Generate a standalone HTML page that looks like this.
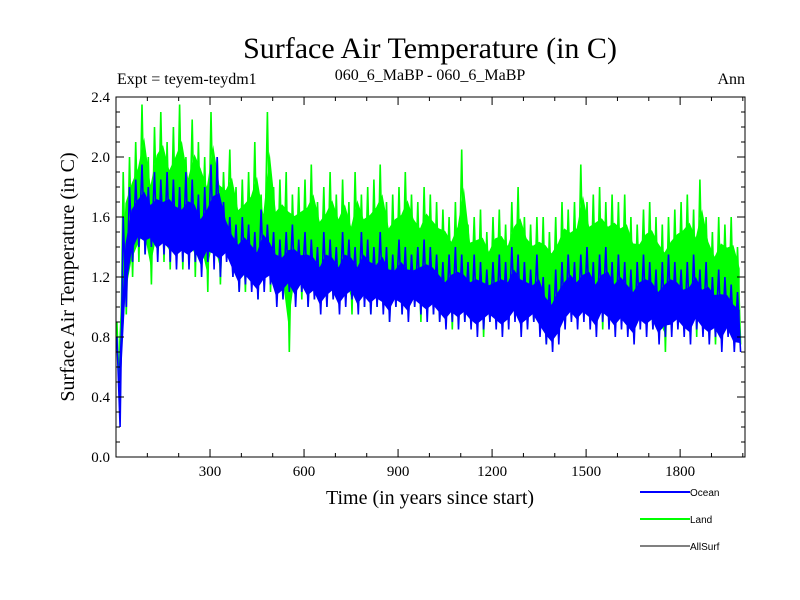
<!DOCTYPE html>
<html><head><meta charset="utf-8">
<style>
body{margin:0;background:#fff;}
svg{display:block;font-family:"Liberation Serif",serif;}
</style></head>
<body>
<svg id="chart" width="800" height="600" viewBox="0 0 800 600">
<rect width="800" height="600" fill="#fff"/>
<text x="430" y="58" font-size="30" text-anchor="middle">Surface Air Temperature (in C)</text>
<text x="117" y="84" font-size="16">Expt = teyem-teydm1</text>
<text x="430" y="80" font-size="16" text-anchor="middle">060_6_MaBP - 060_6_MaBP</text>
<text x="745" y="84" font-size="16" text-anchor="end">Ann</text>
<g id="plot"></g>
<g id="axes"></g>
<text x="430" y="504" font-size="20" text-anchor="middle">Time (in years since start)</text>
<text transform="translate(74,277) rotate(-90)" font-size="20" text-anchor="middle">Surface Air Temperature (in C)</text>
<g font-family="Liberation Sans, sans-serif" font-size="10">
<g><line x1="640" y1="492" x2="690" y2="492" stroke="#0000ff" stroke-width="2"/><text x="690" y="496">Ocean</text></g>
<g><line x1="640" y1="519" x2="690" y2="519" stroke="#00ff00" stroke-width="2"/><text x="690" y="523">Land</text></g>
<g><line x1="640" y1="546" x2="690" y2="546" stroke="#000" stroke-width="1"/><text x="690" y="550">AllSurf</text></g>
</g>
</svg>
<script>
const binYears = [];
for (let i = 0; i < 100; i++) binYears.push(i * 20);
const landHi = [0.9,1.9,2.0,2.1,2.35,2.0,2.2,2.3,2.1,2.2, 2.35,2.0,2.25,2.1,2.0,2.3,2.0,1.9,2.05,1.8, 1.85,1.9,2.1,1.75,2.3,1.8,1.85,1.9,1.75,1.8, 1.85,1.95,1.7,1.8,1.9,1.75,1.85,1.7,1.9,1.75, 1.8,1.85,1.95,1.7,1.75,1.8,1.9,1.75,1.7,1.8, 1.75,1.7,1.65,1.6,1.7,2.05,1.55,1.6,1.65,1.5, 1.6,1.65,1.55,1.7,1.8,1.6,1.55,1.6,1.6,1.5, 1.6,1.7,1.65,1.7,1.95,1.7,1.75,1.8,1.7,1.75, 1.7,1.75,1.6,1.55,1.65,1.7,1.6,1.55,1.6,1.65, 1.7,1.75,1.65,1.85,1.6,1.5,1.6,1.55,1.6,1.4];
const landLo = [0.3,0.95,1.2,1.3,1.35,1.15,1.35,1.3,1.25,1.3, 1.25,1.35,1.2,1.3,1.1,1.3,1.15,1.35,1.2,1.1, 1.1,1.15,1.05,1.15,1.1,1.05,1.1,0.7,1.1,1.05, 1.0,1.05,1.1,1.0,1.05,1.0,1.1,0.95,1.05,1.0, 0.95,1.0,1.05,0.9,1.0,0.95,1.05,1.0,0.9,1.0, 0.95,0.9,1.0,0.85,0.95,0.9,1.0,0.9,0.8,0.9, 0.95,0.85,0.9,0.95,0.85,0.95,0.9,0.85,0.75,0.85, 0.8,0.9,0.95,0.9,1.0,0.95,0.9,0.85,0.95,0.9, 0.9,0.85,0.8,0.95,0.9,0.85,0.8,0.7,0.85,0.9, 0.85,0.9,0.8,0.95,0.85,0.75,0.8,0.85,0.75,0.75];
const oceanHi = [0.8,1.6,1.8,1.85,1.95,1.8,1.9,1.85,1.9,1.85, 1.8,1.9,1.85,1.75,1.8,1.95,2.0,1.7,1.6,1.55, 1.6,1.55,1.5,1.65,1.55,1.5,1.45,1.5,1.55,1.45, 1.5,1.45,1.4,1.5,1.45,1.4,1.5,1.45,1.4,1.5, 1.45,1.4,1.5,1.4,1.35,1.45,1.4,1.35,1.4,1.45, 1.4,1.35,1.3,1.35,1.4,1.35,1.3,1.35,1.3,1.25, 1.3,1.35,1.3,1.4,1.35,1.3,1.25,1.35,1.2,1.15, 1.25,1.3,1.35,1.3,1.35,1.4,1.3,1.35,1.4,1.3, 1.35,1.3,1.25,1.3,1.35,1.3,1.25,1.3,1.35,1.3, 1.25,1.3,1.35,1.25,1.3,1.2,1.25,1.2,1.15,1.1];
const oceanLo = [0.2,1.0,1.3,1.4,1.35,1.4,1.3,1.35,1.3,1.25, 1.3,1.25,1.3,1.2,1.3,1.25,1.2,1.3,1.2,1.1, 1.15,1.1,1.05,1.1,1.15,1.0,1.05,1.1,1.0,1.1, 1.0,1.05,0.95,1.0,1.05,0.95,1.0,1.05,0.95,1.0, 0.95,1.0,0.95,0.9,1.0,0.95,0.9,1.0,0.95,0.9, 0.95,0.9,0.85,0.9,0.85,0.9,0.85,0.8,0.85,0.9, 0.85,0.8,0.85,0.9,0.8,0.85,0.9,0.8,0.75,0.7, 0.75,0.85,0.9,0.85,0.9,0.85,0.8,0.9,0.85,0.8, 0.85,0.8,0.75,0.85,0.8,0.85,0.75,0.8,0.8,0.85, 0.8,0.75,0.85,0.8,0.75,0.8,0.7,0.8,0.7,0.7];
const yTicks = [0.0,0.4,0.8,1.2,1.6,2.0,2.4];
const yTickLabels = ["0.0","0.4","0.8","1.2","1.6","2.0","2.4"];
const xTicks = [300,600,900,1200,1500,1800];
const xTickLabels = ["300","600","900","1200","1500","1800"];

const X0=116, X1=745, Y0=457, Y1=97, XMAX=2007, YMAX=2.4;
const sx = t => X0 + t/XMAX*(X1-X0);
const sy = v => Y0 - v/YMAX*(Y0-Y1);
const NS="http://www.w3.org/2000/svg";
const plot=document.getElementById('plot'), axes=document.getElementById('axes');
function mk(tag, attrs, parent){const e=document.createElementNS(NS,tag);for(const k in attrs)e.setAttribute(k,attrs[k]);parent.appendChild(e);return e;}

function drawSeries(hi, lo, color, name, topFrac){
  const g=mk('g',{},plot);
  
  
  let top=[], bot=[];
  for(let i=0;i<binYears.length;i++){
    const t=binYears[i]+10, h=hi[i], l=lo[i];
    top.push(sx(t).toFixed(1)+','+sy(h-topFrac*(h-l)).toFixed(1));
    bot.unshift(sx(t).toFixed(1)+','+sy(l+0.15*(h-l)).toFixed(1));
  }
  const band=mk('polygon',{points:top.concat(bot).join(' '),fill:color},g);
  
  
  let pts=[];
  for(let i=0;i<binYears.length;i++){
    pts.push(sx(binYears[i]+3).toFixed(1)+','+sy(hi[i]).toFixed(1));
    pts.push(sx(binYears[i]+13).toFixed(1)+','+sy(lo[i]).toFixed(1));
  }
  const line=mk('polyline',{points:pts.join(' '),fill:'none',stroke:color,'stroke-width':1.6},g);
  
  
}
drawSeries(landHi, landLo, '#00ff00', 'land', 0.22);
drawSeries(oceanHi, oceanLo, '#0000ff', 'ocean', 0.3);

const frame=mk('rect',{x:X0,y:Y1,width:X1-X0,height:Y0-Y1,fill:'none',stroke:'#000','stroke-width':1},axes);


for(let v=0; v<=24; v++){
  const val=v/10, y=sy(val), len=(v%4===0)?8:4;
  mk('line',{x1:X0,y1:y,x2:X0+len,y2:y,stroke:'#000'},axes);
  mk('line',{x1:X1,y1:y,x2:X1-len,y2:y,stroke:'#000'},axes);
}
yTicks.forEach((v,i)=>{
  const t=mk('text',{x:X0-6,y:sy(v)+5,'font-size':15,'text-anchor':'end'},axes);
  t.textContent=yTickLabels[i];
  
  
});
for(let t=100; t<XMAX; t+=100){
  const x=sx(t), len=(t%300===0)?8:4;
  mk('line',{x1:x,y1:Y0,x2:x,y2:Y0-len,stroke:'#000'},axes);
  mk('line',{x1:x,y1:Y1,x2:x,y2:Y1+len,stroke:'#000'},axes);
}
xTicks.forEach((v,i)=>{
  const t=mk('text',{x:sx(v),y:Y0+19,'font-size':15,'text-anchor':'middle'},axes);
  t.textContent=xTickLabels[i];
  
  
});
</script>
</body></html>
